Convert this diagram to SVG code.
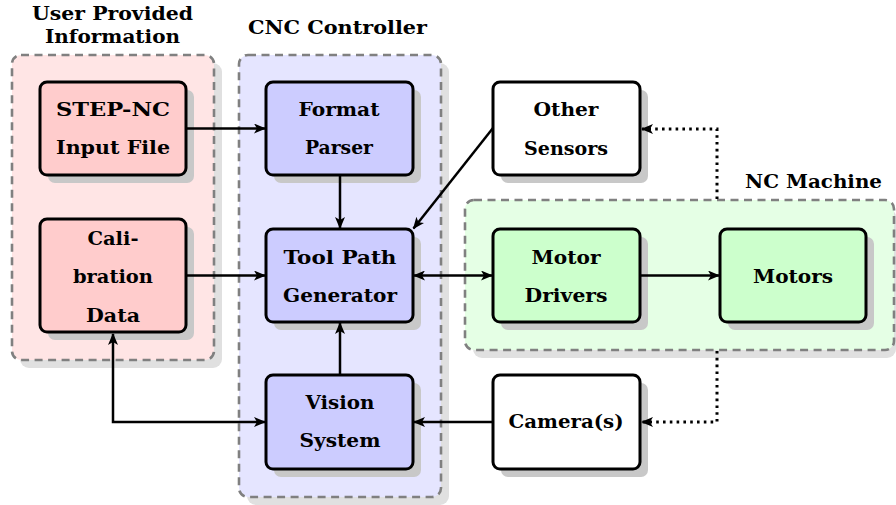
<svg xmlns="http://www.w3.org/2000/svg" width="896" height="505" viewBox="0 0 896 505">
<defs>
<marker id="ah" viewBox="0 0 12 10" refX="11" refY="5" markerWidth="12" markerHeight="10" markerUnits="userSpaceOnUse" orient="auto-start-reverse">
<path d="M0,0 L12,5 L0,10 L3,5 Z" fill="#000"/>
</marker>
</defs>
<style>
.csh{fill:#e0e0e0}
.cont{stroke:#808080;stroke-width:2.6;stroke-dasharray:8,5.5}
.sh{fill:#c8c8c8}
.nd{stroke:#000;stroke-width:3}
.red{fill:#ffcccc}.blue{fill:#ccccff}.green{fill:#ccffcc}.white{fill:#fff}
text{font-family:"DejaVu Serif","Liberation Serif",serif;font-weight:bold;font-size:19px;text-anchor:middle;fill:#000}
.c{fill:none;stroke:#000;stroke-width:2.5}
.d{fill:none;stroke:#000;stroke-width:3;stroke-dasharray:2.6,4.2}
</style>
<g id="grp-user">
<rect class="csh" x="20" y="63" width="202" height="305" rx="9"/>
<rect class="cont" x="12" y="55" width="202" height="305" rx="9" fill="#ffe5e5"/>
<text x="112.5" y="20" textLength="161" lengthAdjust="spacingAndGlyphs">User Provided</text>
<text x="112.5" y="43" textLength="135" lengthAdjust="spacingAndGlyphs">Information</text>
</g>
<g id="grp-cnc">
<rect class="csh" x="247" y="63" width="202" height="442" rx="9"/>
<rect class="cont" x="239" y="55" width="202" height="442" rx="9" fill="#e5e5ff"/>
<text x="337.5" y="34" textLength="179" lengthAdjust="spacingAndGlyphs">CNC Controller</text>
</g>
<g id="grp-nc">
<rect class="csh" x="473" y="208" width="423" height="150" rx="9"/>
<rect class="cont" x="465" y="200" width="429" height="150" rx="9" fill="#e5ffe5"/>
<text x="813.5" y="188" textLength="137" lengthAdjust="spacingAndGlyphs">NC Machine</text>
</g>
<g id="step">
<rect class="sh" x="48" y="90" width="146" height="93" rx="7"/>
<rect class="nd red" x="40" y="82" width="146" height="93" rx="7"/>
<text x="113" y="116" textLength="114" lengthAdjust="spacingAndGlyphs">STEP-NC</text>
<text x="113" y="154" textLength="114" lengthAdjust="spacingAndGlyphs">Input File</text>
</g>
<g id="parser">
<rect class="sh" x="274" y="90" width="147" height="93" rx="7"/>
<rect class="nd blue" x="266" y="82" width="147" height="93" rx="7"/>
<text x="339" y="116" textLength="81" lengthAdjust="spacingAndGlyphs">Format</text>
<text x="339" y="154" textLength="68" lengthAdjust="spacingAndGlyphs">Parser</text>
</g>
<g id="sensors">
<rect class="sh" x="501" y="90" width="147" height="93" rx="7"/>
<rect class="nd white" x="493" y="82" width="147" height="93" rx="7"/>
<text x="566" y="116" textLength="65" lengthAdjust="spacingAndGlyphs">Other</text>
<text x="566" y="155" textLength="84" lengthAdjust="spacingAndGlyphs">Sensors</text>
</g>
<g id="calib">
<rect class="sh" x="48" y="227" width="146" height="113" rx="7"/>
<rect class="nd red" x="40" y="219" width="146" height="113" rx="7"/>
<text x="113" y="245" textLength="51" lengthAdjust="spacingAndGlyphs">Cali-</text>
<text x="113" y="283" textLength="80" lengthAdjust="spacingAndGlyphs">bration</text>
<text x="113" y="322" textLength="54" lengthAdjust="spacingAndGlyphs">Data</text>
</g>
<g id="toolpath">
<rect class="sh" x="274" y="237" width="147" height="93" rx="7"/>
<rect class="nd blue" x="266" y="229" width="147" height="93" rx="7"/>
<text x="340" y="264" textLength="113" lengthAdjust="spacingAndGlyphs">Tool Path</text>
<text x="340" y="302" textLength="114" lengthAdjust="spacingAndGlyphs">Generator</text>
</g>
<g id="drivers">
<rect class="sh" x="501" y="237" width="147" height="93" rx="7"/>
<rect class="nd green" x="493" y="229" width="147" height="93" rx="7"/>
<text x="566" y="264" textLength="69" lengthAdjust="spacingAndGlyphs">Motor</text>
<text x="566" y="302" textLength="83" lengthAdjust="spacingAndGlyphs">Drivers</text>
</g>
<g id="motors">
<rect class="sh" x="728" y="237" width="146" height="93" rx="7"/>
<rect class="nd green" x="720" y="229" width="146" height="93" rx="7"/>
<text x="793" y="283" textLength="80" lengthAdjust="spacingAndGlyphs">Motors</text>
</g>
<g id="vision">
<rect class="sh" x="274" y="383" width="147" height="94" rx="7"/>
<rect class="nd blue" x="266" y="375" width="147" height="94" rx="7"/>
<text x="340" y="409" textLength="69" lengthAdjust="spacingAndGlyphs">Vision</text>
<text x="340" y="447" textLength="81" lengthAdjust="spacingAndGlyphs">System</text>
</g>
<g id="camera">
<rect class="sh" x="501" y="383" width="147" height="94" rx="7"/>
<rect class="nd white" x="493" y="375" width="147" height="94" rx="7"/>
<text x="566" y="428" textLength="115" lengthAdjust="spacingAndGlyphs">Camera(s)</text>
</g>
<g id="connectors">
<path class="c" d="M186,128.5 L265,128.5" marker-end="url(#ah)"/>
<path class="c" d="M340,175 L340,228" marker-end="url(#ah)"/>
<path class="c" d="M493,128 L413.5,228.5" marker-end="url(#ah)"/>
<path class="c" d="M186,275.5 L265,275.5" marker-end="url(#ah)"/>
<path class="c" d="M414,275.5 L492,275.5" marker-start="url(#ah)" marker-end="url(#ah)"/>
<path class="c" d="M640,275.5 L719,275.5" marker-end="url(#ah)"/>
<path class="c" d="M340,375 L340,323" marker-end="url(#ah)"/>
<path class="c" d="M493,422 L414,422" marker-end="url(#ah)"/>
<path class="c" d="M113,334 L113,422 L265,422" marker-start="url(#ah)" marker-end="url(#ah)"/>
<path class="d" d="M717,199 L717,129 L642,129" marker-end="url(#ah)"/>
<path class="d" d="M717,351 L717,422 L642,422" marker-end="url(#ah)"/>
</g>
</svg>
